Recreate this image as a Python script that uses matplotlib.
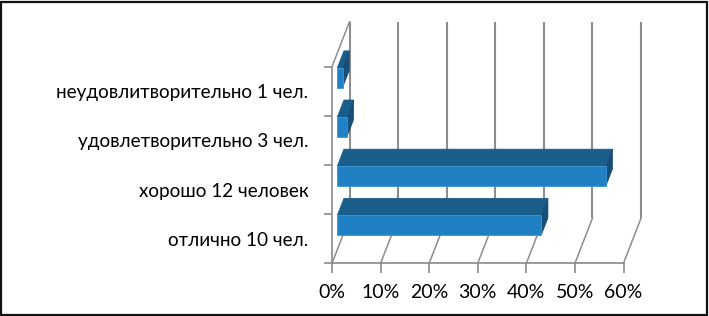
import matplotlib
matplotlib.use("Agg")
import matplotlib.pyplot as plt
from matplotlib.patches import Polygon, Rectangle

# ---- data ----
categories = ["отлично 10 чел.", "хорошо 12 человек",
              "удовлетворительно 3 чел.", "неудовлитворительно 1 чел."]
values = [42, 55.3, 2, 1.1]          # percent
xticks = [0, 10, 20, 30, 40, 50, 60]
xticklabels = ["0%", "10%", "20%", "30%", "40%", "50%", "60%"]

# ---- layout ----
W, H = 709, 316
fig = plt.figure(figsize=(W / 100, H / 100), dpi=100)
plt.rcParams['font.family'] = ['Lato', 'DejaVu Sans']

# front plane of the 3D box (pixel positions)
x0_px, x1_px = 332, 623.5
ybot_px, ytop_px = 263.3, 66.7
ax = fig.add_axes([x0_px / W, (H - ybot_px) / H,
                   (x1_px - x0_px) / W, (ybot_px - ytop_px) / H])
ax.set_xlim(0, 60)
ax.set_ylim(-0.5, len(categories) - 0.5)
ax.patch.set_alpha(0)

# depth offsets (oblique projection) in data units
px_per_x = (x1_px - x0_px) / 60
px_per_y = (ybot_px - ytop_px) / len(categories)
DX = 17.5 / px_per_x
DY = 45 / px_per_y

grid_c = "#8e8e8e"
axis_c = "#8a8a8a"
ylo, yhi = -0.5, len(categories) - 0.5

# back wall vertical gridlines and floor slants
for t in xticks:
    ax.plot([t + DX, t + DX], [ylo + DY, yhi + DY], color=grid_c, lw=1.5,
            clip_on=False, zorder=1, solid_capstyle="butt")
    ax.plot([t, t + DX], [ylo, ylo + DY], color=grid_c, lw=1.1,
            clip_on=False, zorder=1)
# left wall top edge
ax.plot([0, DX], [yhi, yhi + DY], color=grid_c, lw=1.1, clip_on=False, zorder=1)

# bars
front_c = "#1F80C4"
top_c = "#195D8B"
side_c = "#164E77"
edge_c = "#3C95D2"
f0, f1 = 0.3, 0.68
hb = 0.2
for i, v in enumerate(values):
    b0 = i - hb + f0 * DY
    t0 = i + hb + f0 * DY
    b1 = i - hb + f1 * DY
    t1 = i + hb + f1 * DY
    xs0 = f0 * DX
    xs1 = f1 * DX
    # top face
    ax.add_patch(Polygon([(xs0, t0), (v + xs0, t0), (v + xs1, t1), (xs1, t1)],
                         closed=True, facecolor=top_c, edgecolor=top_c,
                         lw=0.5, clip_on=False, zorder=3))
    # right face
    ax.add_patch(Polygon([(v + xs0, b0), (v + xs0, t0), (v + xs1, t1), (v + xs1, b1)],
                         closed=True, facecolor=side_c, edgecolor=side_c,
                         lw=0.5, clip_on=False, zorder=3))
    # front face
    ax.add_patch(Rectangle((xs0, b0), v, t0 - b0, facecolor=front_c,
                           edgecolor=edge_c, lw=0.6, clip_on=False, zorder=4))

# axes / ticks
for s in ["top", "right"]:
    ax.spines[s].set_visible(False)
for s in ["left", "bottom"]:
    ax.spines[s].set_color(axis_c)
    ax.spines[s].set_linewidth(1.2)
ax.set_xticks(xticks)
ax.set_xticklabels(xticklabels, fontsize=14, color="black")
ax.tick_params(axis="x", direction="out", length=7, width=1.2, color=axis_c, pad=8)
bounds = [k - 0.5 for k in range(len(categories) + 1)]
ax.set_yticks(bounds)
ax.set_yticklabels([])
ax.tick_params(axis="y", which="major", direction="out", length=6, width=1.2, color=axis_c)
ax.set_yticks(range(len(categories)), minor=True)
ax.set_yticklabels(categories, minor=True, fontsize=13.6, color="black")
ax.tick_params(axis="y", which="minor", length=0, pad=17)

# outer frame
fig.patches.append(Rectangle((1 / W, 1.5 / H), (707 - 1) / W, (314 - 1.5) / H,
                             transform=fig.transFigure, fill=False,
                             edgecolor="#111111", lw=1.6))

fig.savefig("out.png", dpi=100)
